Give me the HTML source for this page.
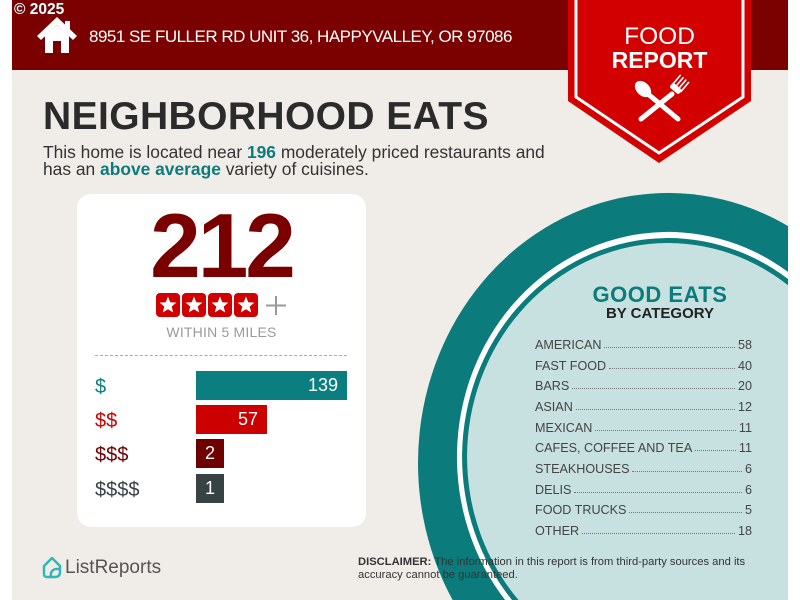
<!DOCTYPE html>
<html><head><meta charset="utf-8">
<style>
*{margin:0;padding:0;box-sizing:border-box}
html,body{width:800px;height:600px;overflow:hidden;background:#fff;font-family:"Liberation Sans",Arial,sans-serif}
#wrap{position:relative;width:800px;height:600px;overflow:hidden}
.abs{position:absolute;white-space:nowrap}
#bg{position:absolute;left:12px;top:0;width:776px;height:600px;background:#f0ece8}
#hdr{position:absolute;left:12px;top:0;width:776px;height:70px;background:#7b0000}
.lbl{position:absolute;left:95px;font-size:20px;line-height:29px}
.bar{position:absolute;left:196px;height:29px;color:#fff;font-size:18px;line-height:29px;text-align:right;padding-right:9px}
.row{position:absolute;left:535px;width:217px;height:20.7px;display:flex;align-items:baseline;font-size:12.6px;line-height:20.7px;color:#444}
.row .d{flex:1;border-bottom:1.5px dotted #777;margin:0 3px;height:1px;transform:translateY(-1px)}
</style></head><body>
<div id="wrap">
<div id="bg"></div>
<div id="hdr"></div>

<svg class="abs" style="left:0;top:0;display:block" width="800" height="600" viewBox="0 0 800 600">
  <path d="M452.6,600 A250,270 0 0 1 788,226.1 L788,600 Z" fill="#0b7b7b"/>
  <path d="M505.1,600 A211,225 0 0 1 788,271.9 L788,600 Z" fill="#ffffff"/>
  <path d="M512,600 A206,219 0 0 1 788,279 L788,600 Z" fill="#0b7b7b"/>
  <path d="M518.5,600 A201,214 0 0 1 788,285.3 L788,600 Z" fill="#c6e1df"/>
  <!-- badge -->
  <polygon points="568,0 751,0 751,101 659,163 568,101" fill="#d30000"/>
  <polyline points="576,0 576,97 659,153 743,97 743,0" fill="none" stroke="#fff" stroke-width="3"/>
  <!-- utensils -->
  <g fill="#fff" stroke="#fff" stroke-linecap="round">
    <line x1="648" y1="94" x2="678" y2="119" stroke-width="5"/>
    <ellipse cx="643" cy="89" rx="6" ry="9" transform="rotate(-45 643 89)"/>
    <line x1="672" y1="94" x2="641" y2="119" stroke-width="5"/>
    <g transform="rotate(40 677 87)">
      <rect x="671" y="86" width="12" height="6" rx="2" stroke="none"/>
      <line x1="672" y1="76" x2="672" y2="88" stroke-width="1.6"/>
      <line x1="675.7" y1="76" x2="675.7" y2="88" stroke-width="1.6"/>
      <line x1="679.3" y1="76" x2="679.3" y2="88" stroke-width="1.6"/>
      <line x1="683" y1="76" x2="683" y2="88" stroke-width="1.6"/>
    </g>
  </g>
  <!-- house -->
  <g fill="#fff">
    <rect x="65" y="21" width="5" height="11"/>
    <polygon points="57,17 37,36 41,40 57,25 73,40 77,36"/>
    <polygon points="45,36 57,25 69,36 69,53 45,53"/>
    <rect x="53" y="41" width="8" height="12" fill="#7b0000"/>
  </g>
  <!-- ListReports icon -->
  <g fill="none" stroke="#2fb6b6" stroke-width="2.4" stroke-linejoin="round" stroke-linecap="round">
    <path d="M44,566 L52,558 L60,566 L60,572 Q60,577 55,577 L47,577 Q44,577 44,574 Z"/>
    <path d="M51,577 Q50,570 56,569 L60,569"/>
  </g>
</svg>

<div class="abs" style="left:14px;top:2px;font-size:15.5px;font-weight:bold;color:#fff;line-height:16px;text-shadow:0 0 1px #333">© 2025</div>
<div class="abs" style="left:89px;top:28px;font-size:17px;line-height:17px;letter-spacing:-0.5px;color:#fff">8951 SE FULLER RD UNIT 36, HAPPYVALLEY, OR 97086</div>

<div class="abs" style="left:568px;width:183px;top:24px;text-align:center;font-size:24.5px;line-height:25px;color:#fff">FOOD</div>
<div class="abs" style="left:568px;width:183px;top:49px;text-align:center;font-size:23px;line-height:23px;font-weight:bold;color:#fff">REPORT</div>

<div class="abs" style="left:43px;top:97px;font-size:39px;line-height:39px;font-weight:bold;color:#2b2b2b;letter-spacing:0.4px">NEIGHBORHOOD EATS</div>
<div class="abs" style="left:43px;top:143.5px;font-size:17.4px;line-height:17px;color:#333">This home is located near <b style="color:#0b7b7b">196</b> moderately priced restaurants and<br>has an <b style="color:#0b7b7b">above average</b> variety of cuisines.</div>

<!-- card -->
<div class="abs" style="left:77px;top:194px;width:289px;height:333px;background:#fff;border-radius:14px"></div>
<div class="abs" style="left:77px;width:289px;top:201px;height:91px;overflow:hidden;text-align:center;font-size:91px;line-height:91px;font-weight:bold;color:#7a0000;letter-spacing:-3px">212</div>
<svg class="abs" style="left:156px;top:293px;display:block" width="132" height="25" viewBox="0 0 132 25">
  <defs><polygon id="st" points="12,3.5 14.3,9.3 20.4,9.6 15.7,13.5 17.2,19.5 12,16.2 6.8,19.5 8.3,13.5 3.6,9.6 9.7,9.3" fill="#fff"/></defs>
  <rect x="0" y="0" width="24" height="24" rx="4" fill="#d10000"/><use href="#st" x="0" y="0"/>
  <rect x="26" y="0" width="24" height="24" rx="4" fill="#d10000"/><use href="#st" x="26" y="0"/>
  <rect x="52" y="0" width="24" height="24" rx="4" fill="#d10000"/><use href="#st" x="52" y="0"/>
  <rect x="78" y="0" width="24" height="24" rx="4" fill="#d10000"/><use href="#st" x="78" y="0"/>
  <line x1="110" y1="12.5" x2="130" y2="12.5" stroke="#999" stroke-width="2"/>
  <line x1="120" y1="3" x2="120" y2="22" stroke="#999" stroke-width="2"/>
</svg>
<div class="abs" style="left:77px;width:289px;top:325px;text-align:center;font-size:14px;line-height:14px;color:#9a9a9a;letter-spacing:0.2px">WITHIN 5 MILES</div>
<div class="abs" style="left:95px;top:355px;width:252px;border-top:1px dashed #aaa"></div>

<div class="lbl" style="top:373px;color:#0b7f7f">$</div>
<div class="lbl" style="top:407px;color:#cc0000">$$</div>
<div class="lbl" style="top:441px;color:#6e0000">$$$</div>
<div class="lbl" style="top:476px;color:#364243">$$$$</div>
<div class="bar" style="top:371px;width:151px;background:#0b7f7f">139</div>
<div class="bar" style="top:405px;width:71px;background:#cc0000">57</div>
<div class="bar" style="top:439px;width:28px;background:#6e0000">2</div>
<div class="bar" style="top:474px;width:28px;background:#364243">1</div>

<!-- Good eats -->
<div class="abs" style="left:560px;width:200px;top:284px;text-align:center;font-size:22px;line-height:22px;font-weight:bold;color:#0b7b7b;letter-spacing:0.5px">GOOD EATS</div>
<div class="abs" style="left:560px;width:200px;top:306px;text-align:center;font-size:15px;line-height:15px;font-weight:bold;color:#222">BY CATEGORY</div>

<div class="row" style="top:334.8px"><span>AMERICAN</span><span class="d"></span><span>58</span></div>
<div class="row" style="top:355.5px"><span>FAST FOOD</span><span class="d"></span><span>40</span></div>
<div class="row" style="top:376.2px"><span>BARS</span><span class="d"></span><span>20</span></div>
<div class="row" style="top:396.9px"><span>ASIAN</span><span class="d"></span><span>12</span></div>
<div class="row" style="top:417.6px"><span>MEXICAN</span><span class="d"></span><span>11</span></div>
<div class="row" style="top:438.3px"><span>CAFES, COFFEE AND TEA</span><span class="d"></span><span>11</span></div>
<div class="row" style="top:459px"><span>STEAKHOUSES</span><span class="d"></span><span>6</span></div>
<div class="row" style="top:479.7px"><span>DELIS</span><span class="d"></span><span>6</span></div>
<div class="row" style="top:500.4px"><span>FOOD TRUCKS</span><span class="d"></span><span>5</span></div>
<div class="row" style="top:521.1px"><span>OTHER</span><span class="d"></span><span>18</span></div>

<div class="abs" style="left:65px;top:558px;font-size:19px;line-height:19px;color:#555">ListReports</div>
<div class="abs" style="left:358px;top:556px;font-size:11.2px;line-height:13px;color:#333"><b>DISCLAIMER:</b> The information in this report is from third-party sources and its<br>accuracy cannot be guaranteed.</div>
</div>
</body></html>
